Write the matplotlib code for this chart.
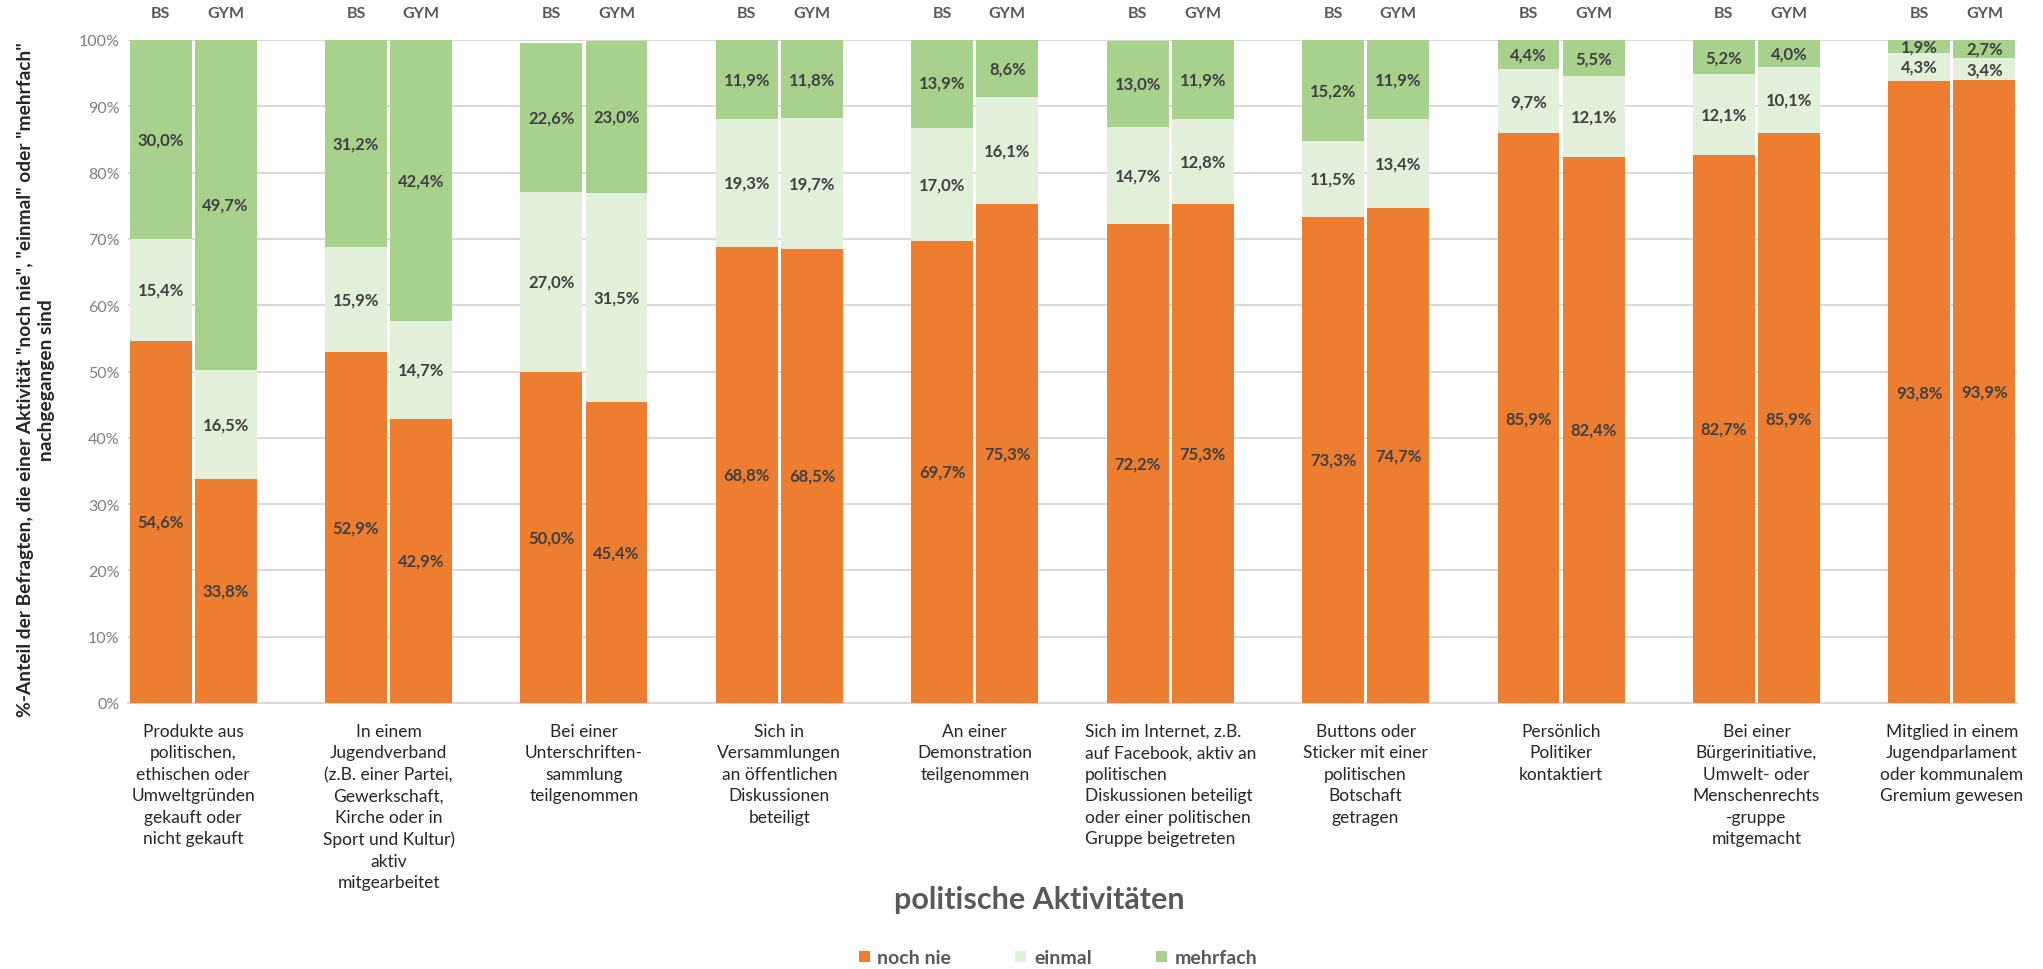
import matplotlib
matplotlib.use('Agg')
import matplotlib.pyplot as plt
import matplotlib.transforms as mtransforms
from matplotlib.patches import Patch

plt.rcParams['font.family'] = ['Lato', 'DejaVu Sans']

# Kategorien (politische Aktivitaeten)
categories = [
    'Produkte aus\npolitischen,\nethischen oder\nUmweltgründen\ngekauft oder\nnicht gekauft',
    'In einem\nJugendverband\n(z.B. einer Partei,\nGewerkschaft,\nKirche oder in\nSport und Kultur)\naktiv\nmitgearbeitet',
    'Bei einer\nUnterschriften-\nsammlung\nteilgenommen',
    'Sich in\nVersammlungen\nan öffentlichen\nDiskussionen\nbeteiligt',
    'An einer\nDemonstration\nteilgenommen',
    'Sich im Internet, z.B.\nauf Facebook, aktiv an\npolitischen\nDiskussionen beteiligt\noder einer politischen\nGruppe beigetreten',
    'Buttons oder\nSticker mit einer\npolitischen\nBotschaft\ngetragen',
    'Persönlich\nPolitiker\nkontaktiert',
    'Bei einer\nBürgerinitiative,\nUmwelt- oder\nMenschenrechts\n-gruppe\nmitgemacht',
    'Mitglied in einem\nJugendparlament\noder kommunalem\nGremium gewesen',
]
label_align = ['center'] * 5 + ['left'] + ['center'] * 4
schools = ['BS', 'GYM']

# Werte in % (BS / GYM)
bs_noch_nie = [54.6, 52.9, 50.0, 68.8, 69.7, 72.2, 73.3, 85.9, 82.7, 93.8]
bs_einmal = [15.4, 15.9, 27.0, 19.3, 17.0, 14.7, 11.5, 9.7, 12.1, 4.3]
bs_mehrfach = [30.0, 31.2, 22.6, 11.9, 13.9, 13.0, 15.2, 4.4, 5.2, 1.9]
gym_noch_nie = [33.8, 42.9, 45.4, 68.5, 75.3, 75.3, 74.7, 82.4, 85.9, 93.9]
gym_einmal = [16.5, 14.7, 31.5, 19.7, 16.1, 12.8, 13.4, 12.1, 10.1, 3.4]
gym_mehrfach = [49.7, 42.4, 23.0, 11.8, 8.6, 11.9, 11.9, 5.5, 4.0, 2.7]

series_names = ['noch nie', 'einmal', 'mehrfach']
colors = ['#ED7D31', '#E2EFDA', '#A9D18E']

fig = plt.figure(figsize=(20.43, 9.70), dpi=100)
ax = fig.add_axes([128 / 2043, 266 / 970, 1889 / 2043, 663 / 970])

data = {
    'BS': [bs_noch_nie, bs_einmal, bs_mehrfach],
    'GYM': [gym_noch_nie, gym_einmal, gym_mehrfach],
}

width = 0.95
for j, school in enumerate(schools):
    xs = [3 * g + j for g in range(len(categories))]
    bottom = [0.0] * len(categories)
    for k, vals in enumerate(data[school]):
        ax.bar(xs, vals, width, bottom=bottom, color=colors[k], zorder=3)
        for x, b, v in zip(xs, bottom, vals):
            ax.text(x, b + v / 2, f'{v:.1f}%'.replace('.', ','), ha='center', va='center',
                    fontsize=12, fontweight='bold', color='#404040', zorder=4)
        bottom = [b + v for b, v in zip(bottom, vals)]

ax.set_xlim(-0.5, 3 * len(categories) - 1.5)
ax.set_ylim(0, 100)
ax.set_yticks(range(0, 101, 10))
ax.set_yticklabels([f'{t}%' for t in range(0, 101, 10)], fontsize=11.5, color='#7F7F7F')
ax.set_xticks([])
ax.tick_params(axis='y', length=0, pad=6)
ax.yaxis.grid(True, color='#D9D9D9', linewidth=1.5, zorder=0)
for s in ['left', 'right', 'top']:
    ax.spines[s].set_visible(False)
ax.spines['bottom'].set_color('#D9D9D9')
ax.spines['bottom'].set_linewidth(1.5)

trans = mtransforms.blended_transform_factory(ax.transData, ax.transAxes)
for g, cat in enumerate(categories):
    xc = 3 * g + 0.5
    ax.text(xc, -0.03, cat, transform=trans, ha='center', va='top', multialignment=label_align[g],
            fontsize=12.5, color='#262626', linespacing=1.42)
    for j, school in enumerate(schools):
        ax.text(3 * g + j, 1.04, school, transform=trans, ha='center', va='center',
                fontsize=11.5, fontweight='bold', color='#595959')

fig.text(36 / 2043, 1 - 380 / 970,
         '%-Anteil der Befragten, die einer Aktivität "noch nie", "einmal" oder "mehrfach"\nnachgegangen sind',
         rotation=90, ha='center', va='center', multialignment='center',
         fontsize=13.8, fontweight='bold', color='#262626', linespacing=1.3)

fig.text(1039 / 2043, 1 - 900 / 970, 'politische Aktivitäten', ha='center', va='center',
         fontsize=22, fontweight='bold', color='#595959')

handles = [Patch(facecolor=c, edgecolor='none') for c in colors]
leg = fig.legend(handles, series_names, loc='center', bbox_to_anchor=(1058 / 2043, 1 - 959 / 970),
                 ncol=3, frameon=False, fontsize=14, handlelength=0.55, handleheight=0.55,
                 handletextpad=0.4, columnspacing=3.3)
for t in leg.get_texts():
    t.set_color('#595959')
    t.set_fontweight('bold')

fig.savefig('out.png', dpi=100)
